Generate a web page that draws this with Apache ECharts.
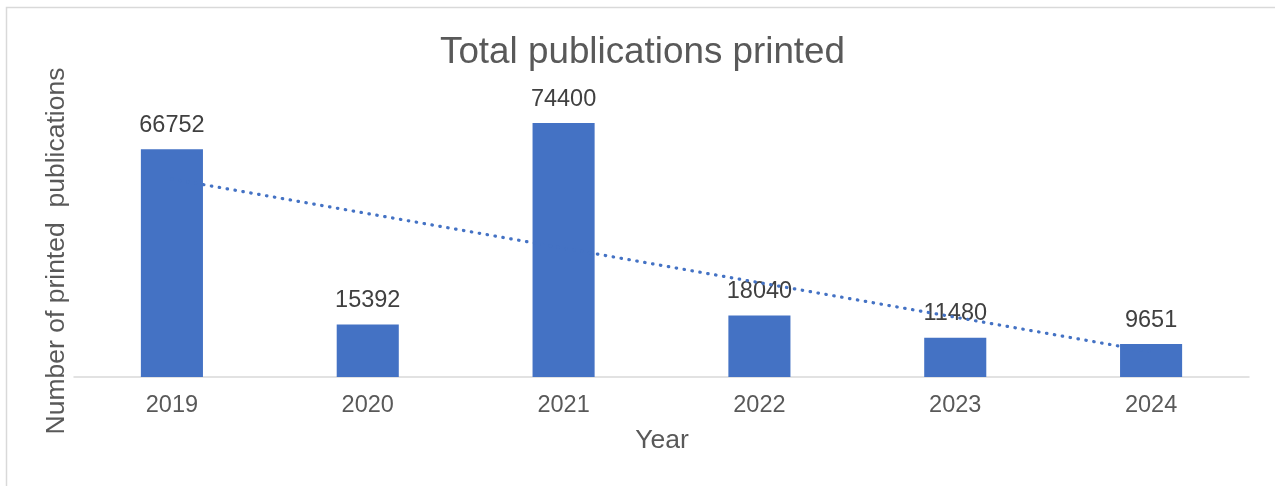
<!DOCTYPE html>
<html>
<head>
<meta charset="utf-8">
<script src="https://cdn.jsdelivr.net/npm/echarts@6/dist/echarts.min.js"></script>
<style>
html,body{margin:0;padding:0;background:#fff;}
#chart{width:1275px;height:486px;}
</style>
</head>
<body>
<div id="chart"></div>
<script>
const years = ['2019', '2020', '2021', '2022', '2023', '2024'];
const printed = [66752, 15392, 74400, 18040, 11480, 9651];
// Linear trendline endpoints
const trendStart = 58000;
const trendEnd = 7400;

const FONT = '"Liberation Sans", Arial, sans-serif';
const chart = echarts.init(document.getElementById('chart'), null, {renderer: 'canvas'});
chart.setOption({
  animation: false,
  backgroundColor: '#ffffff',
  title: {
    text: 'Total publications printed',
    left: 435,
    top: 29,
    textStyle: {fontFamily: FONT, fontSize: 36.8, fontWeight: 'normal', color: '#595959'}
  },
  grid: {left: 74, right: 26, top: 104, bottom: 109},
  xAxis: {
    type: 'category',
    data: years,
    axisLine: {lineStyle: {color: '#d9d9d9', width: 1.5}},
    axisTick: {show: false},
    axisLabel: {fontFamily: FONT, fontSize: 23.5, color: '#595959', margin: 17}
  },
  yAxis: {
    type: 'value',
    min: 0,
    max: 80000,
    show: false,
    splitLine: {show: false}
  },
  graphic: [
    {type: 'rect', shape: {x: 6.5, y: 7.5, width: 1400, height: 1000},
     style: {fill: 'none', stroke: '#d9d9d9', lineWidth: 1.5}, silent: true},
    {type: 'text', x: 57, y: 251, rotation: Math.PI / 2,
     style: {text: 'Number of printed  publications', font: '26.5px ' + FONT, fill: '#595959',
             textAlign: 'center', textVerticalAlign: 'middle'}},
    {type: 'text', x: 662, y: 441,
     style: {text: 'Year', font: '26.5px ' + FONT, fill: '#595959',
             textAlign: 'center', textVerticalAlign: 'middle'}}
  ],
  series: [
    {
      type: 'line',
      data: [],
      z: 1,
      silent: true,
      markLine: {
        silent: true,
        symbol: ['none', 'none'],
        label: {show: false},
        lineStyle: {color: '#4472C4', type: [0.5, 7.5], width: 3.2, cap: 'round'},
        data: [[{coord: [years[0], trendStart]}, {coord: [years[years.length - 1], trendEnd]}]]
      }
    },
    {
      type: 'bar',
      data: printed,
      z: 3,
      barWidth: '31.7%',
      itemStyle: {color: '#4472C4'},
      label: {show: true, position: 'top', distance: 12, fontFamily: FONT, fontSize: 23.5, color: '#404040'}
    }
  ]
});
</script>
</body>
</html>
